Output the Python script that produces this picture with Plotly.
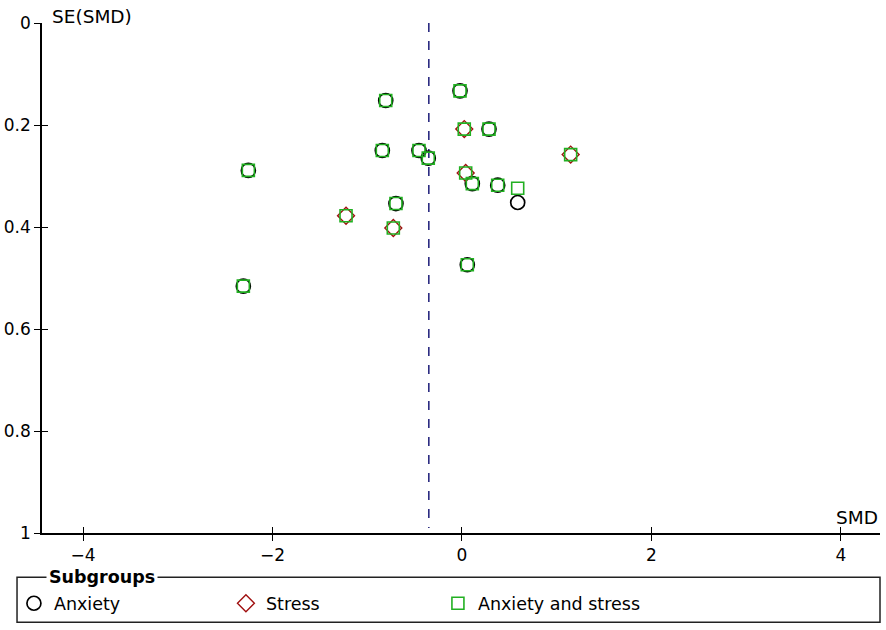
import plotly.graph_objects as go

# ---- data ----
anx_smd = [-2.255, -2.308, -0.805, -0.841, -0.454, -0.356, -0.021, 0.285, 0.109, 0.377, 0.588, -0.697, 0.056]
anx_se  = [0.289, 0.516, 0.152, 0.250, 0.250, 0.265, 0.133, 0.208, 0.315, 0.318, 0.352, 0.354, 0.474]

str_smd = [0.024, 1.147, 0.039, -1.224, -0.725]
str_se  = [0.208, 0.258, 0.294, 0.378, 0.402]

both_smd = [-2.255, -2.308, -0.805, -0.841, -0.454, -0.356, -0.021, 0.024, 0.285, 1.147,
            0.039, 0.109, 0.377, 0.588, -0.697, -1.224, -0.725, 0.056]
both_se  = [0.289, 0.516, 0.152, 0.250, 0.250, 0.265, 0.133, 0.208, 0.208, 0.258,
            0.294, 0.315, 0.318, 0.324, 0.354, 0.378, 0.402, 0.474]

pooled_smd = -0.35
pooled_se_span = [0.0, 0.99]

x_ticks = [-4, -2, 0, 2, 4]
x_tick_text = ["−4", "−2", "0", "2", "4"]
y_ticks = [0, 0.2, 0.4, 0.6, 0.8, 1]
y_tick_text = ["0", "0.2", "0.4", "0.6", "0.8", "1"]

FONT = "DejaVu Sans"

fig = go.Figure()
fig.add_trace(go.Scatter(x=[pooled_smd, pooled_smd], y=pooled_se_span, mode="lines",
                         line=dict(color="#1c1c78", width=1.5, dash="dash"),
                         showlegend=False, hoverinfo="skip"))
fig.add_trace(go.Scatter(x=anx_smd, y=anx_se, mode="markers", name="Anxiety",
                         marker=dict(symbol="circle-open", size=14, color="black",
                                     line=dict(width=1.7, color="black"))))
fig.add_trace(go.Scatter(x=str_smd, y=str_se, mode="markers", name="Stress",
                         marker=dict(symbol="diamond-open", size=13, color="#a01010",
                                     line=dict(width=1.4, color="#a01010"))))
fig.add_trace(go.Scatter(x=both_smd, y=both_se, mode="markers", name="Anxiety and stress",
                         marker=dict(symbol="square-open", size=12, color="#22b022",
                                     line=dict(width=1.6, color="#22b022"))))

# invisible trace to carry inside ticks
fig.add_trace(go.Scatter(x=[0], y=[0], xaxis="x2", yaxis="y2", mode="markers",
                         marker=dict(opacity=0), showlegend=False, hoverinfo="skip"))

xr = [-4.433, 4.412]
yr = [1, 0]
fig.update_layout(
    width=886, height=630,
    margin=dict(l=42, r=6, t=23, b=97, autoexpand=False),
    paper_bgcolor="white", plot_bgcolor="white",
    font=dict(family=FONT, size=17, color="black"),
    xaxis=dict(range=xr, showgrid=False, zeroline=False, showline=True, linecolor="black",
               linewidth=1.5, ticks="outside", ticklen=6, tickwidth=1.3, tickcolor="black",
               tickvals=x_ticks, ticktext=x_tick_text, anchor="y", automargin=False,
               tickfont=dict(size=17)),
    yaxis=dict(range=yr, showgrid=False, zeroline=False, showline=True, linecolor="black",
               linewidth=1.5, ticks="outside", ticklen=6, tickwidth=1.3, tickcolor="black",
               tickvals=y_ticks, ticktext=y_tick_text, anchor="x", automargin=False,
               tickfont=dict(size=17)),
    xaxis2=dict(range=xr, overlaying="x", anchor="y2", side="bottom", showgrid=False,
                zeroline=False, showline=False, ticks="inside", ticklen=6, tickwidth=1.3,
                tickcolor="black", tickvals=x_ticks, showticklabels=False, automargin=False),
    yaxis2=dict(range=yr, overlaying="y", anchor="x2", side="left", showgrid=False,
                zeroline=False, showline=False, ticks="inside", ticklen=6, tickwidth=1.3,
                tickcolor="black", tickvals=y_ticks, showticklabels=False, automargin=False),
    legend=dict(orientation="h", x=-0.0335, xanchor="left", y=-0.138, yanchor="middle",
                entrywidth=167, entrywidthmode="pixels", font=dict(size=17.5),
                bgcolor="rgba(0,0,0,0)", borderwidth=0, itemsizing="trace"),
    showlegend=True,
)

fig.add_shape(type="rect", xref="paper", yref="paper", x0=-0.0298, x1=1.0, y0=-0.175, y1=-0.0869,
              line=dict(color="#222222", width=1.5), fillcolor="rgba(0,0,0,0)")
fig.add_annotation(xref="paper", yref="paper", x=-0.0298 + 0.034, y=-0.0869, xanchor="left",
                   yanchor="middle", text="<b>Subgroups</b>", showarrow=False,
                   bgcolor="white", font=dict(size=17.5), borderpad=2)
fig.add_annotation(xref="paper", yref="paper", x=0, y=1, xanchor="left", yanchor="bottom",
                   xshift=8, yshift=-6, text="SE(SMD)", showarrow=False, font=dict(size=18.5))
fig.add_annotation(xref="paper", yref="paper", x=1, y=0, xanchor="right", yanchor="bottom",
                   yshift=3, text="SMD", showarrow=False, font=dict(size=18.5))

fig.write_html("out.html", config={"displayModeBar": False},
               post_script="document.body.style.margin='0';document.body.style.overflow='hidden';")
